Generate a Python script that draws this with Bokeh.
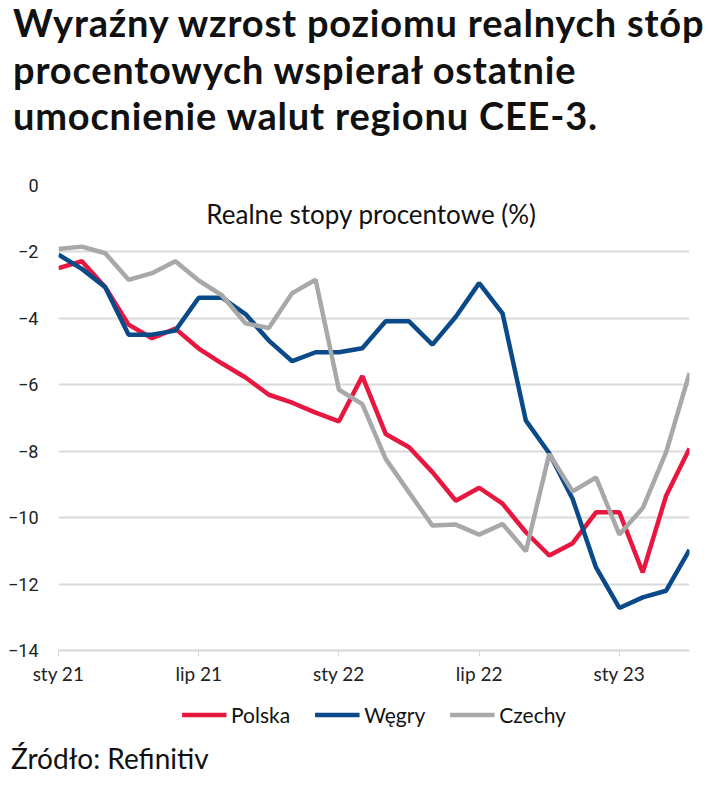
from bokeh.plotting import figure
from bokeh.models import Range1d, FixedTicker, Label, Legend, LegendItem, Div
from bokeh.layouts import column
from bokeh.embed import file_html
from bokeh.resources import INLINE

# monthly data, Jan 2021 .. Apr 2023
months = list(range(28))
polska = [-2.49, -2.28, -3.06, -4.19, -4.60, -4.31, -4.91, -5.36, -5.78, -6.30,
          -6.54, -6.84, -7.10, -5.74, -7.48, -7.88, -8.63, -9.49, -9.10, -9.58,
          -10.44, -11.14, -10.77, -9.84, -9.84, -11.65, -9.34, -7.92]
wegry = [-2.08, -2.51, -3.06, -4.49, -4.49, -4.37, -3.38, -3.38, -3.87, -4.67,
         -5.29, -5.02, -5.02, -4.90, -4.09, -4.09, -4.79, -3.95, -2.94, -3.85,
         -7.08, -8.06, -9.44, -11.50, -12.72, -12.40, -12.20, -10.97]
czechy = [-1.91, -1.84, -2.04, -2.84, -2.64, -2.28, -2.86, -3.31, -4.15, -4.29,
          -3.24, -2.84, -6.15, -6.58, -8.23, -9.24, -10.24, -10.21, -10.51, -10.19,
          -11.01, -8.08, -9.21, -8.79, -10.51, -9.71, -8.03, -5.65]
series_names = ["Polska", "Węgry", "Czechy"]
colors = ["#e8173f", "#0b4a88", "#a8a8a8"]
tick_pos = [0, 6, 12, 18, 24]
tick_labels = ["sty 21", "lip 21", "sty 22", "lip 22", "sty 23"]
y_ticks = [0, -2, -4, -6, -8, -10, -12, -14]

FONT = "Lato"

title = Div(text='<div style="margin-top:-6px;padding-left:8px;font-family:Lato;'
                 'font-weight:bold;font-size:38px;line-height:46.7px;letter-spacing:0.8px;'
                 'color:#111111;white-space:nowrap">'
                 "Wyraźny wzrost poziomu realnych stóp<br>procentowych wspierał ostatnie<br>"
                 "umocnienie walut regionu CEE-3.</div>",
            width=694, height=135)

p = figure(frame_width=631, frame_height=465, output_backend="svg", toolbar_location=None,
           x_range=Range1d(0, 27), y_range=Range1d(-14, 0),
           min_border_left=58, min_border_right=5, min_border_top=40,
           min_border_bottom=45)
p.outline_line_color = None
p.background_fill_color = "white"
p.border_fill_color = "white"

p.xgrid.grid_line_color = None
p.ygrid.grid_line_color = "#dadada"
p.ygrid.grid_line_width = 2

p.xaxis.ticker = FixedTicker(ticks=tick_pos)
p.xaxis.major_label_overrides = {t: l for t, l in zip(tick_pos, tick_labels)}
p.xaxis.axis_line_color = "#d6d6d6"
p.xaxis.axis_line_width = 2
p.xaxis.major_tick_line_color = "#d6d6d6"
p.xaxis.major_tick_out = 6
p.xaxis.major_tick_in = 0
p.xaxis.minor_tick_line_color = None
p.xaxis.major_label_text_font = FONT
p.xaxis.major_label_text_font_size = "19px"
p.xaxis.major_label_text_color = "#222222"
p.xaxis.major_label_standoff = 5

p.yaxis.ticker = FixedTicker(ticks=y_ticks)
p.yaxis.axis_line_color = None
p.yaxis.major_tick_line_color = None
p.yaxis.major_tick_out = 0
p.yaxis.major_tick_in = 0
p.yaxis.minor_tick_line_color = None
p.yaxis.minor_tick_out = 0
p.yaxis.major_label_text_font = "Roboto"
p.yaxis.major_label_text_font_size = "18px"
p.yaxis.major_label_text_color = "#222222"
p.yaxis.major_label_standoff = 20

series = [polska, wegry, czechy]
for ys, c in zip(series, colors):
    p.line(months, ys, line_color=c, line_width=4.5)

p.add_layout(Label(x=313, y=437, x_units="screen", y_units="screen",
                   text="Realne stopy procentowe (%)", text_align="center",
                   text_baseline="middle", text_font=FONT,
                   text_font_size="26px", text_color="#111111"))

# legend row: a frame-aligned strip holding only the legend; its y range lies
# outside the data so the series lines themselves are clipped away there
lg = figure(frame_width=631, frame_height=38, output_backend="svg", toolbar_location=None,
            x_range=Range1d(0, 27), y_range=Range1d(100, 101),
            min_border_left=58, min_border_right=5, min_border_top=0, min_border_bottom=0)
lg.axis.visible = False
lg.grid.grid_line_color = None
lg.outline_line_color = None
lg.background_fill_color = "white"
items = []
for name, ys, c in zip(series_names, series, colors):
    r = lg.line(months, ys, line_color=c, line_width=4.5)
    items.append(LegendItem(label=name, renderers=[r]))
legend = Legend(items=items, orientation="horizontal", location="center",
                label_text_font=FONT, label_text_font_size="21px",
                label_text_color="#111111",
                glyph_width=45, glyph_height=20, label_standoff=5, spacing=24,
                border_line_color=None, background_fill_alpha=0,
                padding=4, margin=0)
lg.add_layout(legend)

source = Div(text='<div style="padding-left:6px;font-family:Lato;font-size:28px;'
                  'line-height:40px;color:#111111;white-space:nowrap">Źródło: Refinitiv</div>',
             width=694, height=40)

open("out.html", "w").write(file_html(column(title, p, lg, source), INLINE))
